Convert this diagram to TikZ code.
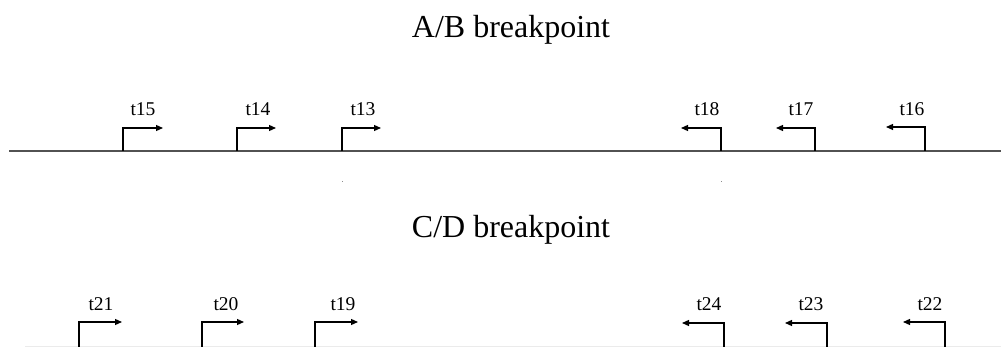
\documentclass[tikz,border=0pt]{standalone}
\usepackage{fontspec}
\setmainfont{Liberation Serif}
\usetikzlibrary{arrows.meta,positioning}
\colorlet{colorAXIS}{black!68}
\colorlet{colorCUT}{black!8}
\tikzset{
   every path/.style={>={Triangle[length=7pt,width=6pt]}},
   axis/.style={-,color=colorAXIS,line width=1.4pt},
   cut/.style={-,color=colorCUT,line width=0.8pt},
   fwd/.style={->,line width=1.2pt},
   rev/.style={<-,line width=1.2pt},
   speck/.style={-,color=black!45,line width=0.8pt},
   tlabel/.style={inner sep=0pt,anchor=base,font=\fontsize{19.5}{22}\selectfont},
   title/.style={inner sep=0pt,anchor=base,font=\fontsize{32}{37}\selectfont},
}

\begin{document}
\begin{tikzpicture}[x=1pt,y=-1pt]
    \useasboundingbox (0,0) rectangle (1001,347);

    % A/B breakpoint
    \node (ab) [title] at (511,38) {A/B breakpoint};
    \coordinate (abw) at (9,151);
    \coordinate (abe) at (1001,151);
    \draw[axis] (abw) -- (abe);

    \node (t15) [tlabel] at (143,116) {t15};
    \node (t14) [tlabel] at (258,116) {t14};
    \node (t13) [tlabel] at (363,116) {t13};
    \node (t18) [tlabel] at (707,116) {t18};
    \node (t17) [tlabel] at (801,116) {t17};
    \node (t16) [tlabel] at (912,116) {t16};

    \coordinate (b15) at (123,151);  \coordinate (e15) at (163,128);
    \coordinate (b14) at (237,151);  \coordinate (e14) at (276,128);
    \coordinate (b13) at (342,151);  \coordinate (e13) at (381,128);
    \coordinate (b18) at (721,151);  \coordinate (e18) at (681,128);
    \coordinate (b17) at (815,151);  \coordinate (e17) at (776,128);
    \coordinate (b16) at (925,151);  \coordinate (e16) at (886,127);

    \draw[fwd] (b15) |- (e15);
    \draw[fwd] (b14) |- (e14);
    \draw[fwd] (b13) |- (e13);
    \draw[rev] (e18) -| (b18);
    \draw[rev] (e17) -| (b17);
    \draw[rev] (e16) -| (b16);

    \draw[speck] (342,181.5) -- (342,182.5);
    \draw[speck] (721,181.5) -- (721,182.5);

    % C/D breakpoint
    \node (cd) [title] at (511,238) {C/D breakpoint};
    \coordinate (cdw) at (25,346.5);
    \coordinate (cde) at (1001,346.5);
    \draw[cut] (cdw) -- (cde);

    \node (t21) [tlabel] at (101,310) {t21};
    \node (t20) [tlabel] at (226,310) {t20};
    \node (t19) [tlabel] at (343,310) {t19};
    \node (t24) [tlabel] at (709,310) {t24};
    \node (t23) [tlabel] at (811,310) {t23};
    \node (t22) [tlabel] at (930,310) {t22};

    \coordinate (b21) at (79,347);   \coordinate (e21) at (122,322);
    \coordinate (b20) at (202,347);  \coordinate (e20) at (244,322);
    \coordinate (b19) at (315,347);  \coordinate (e19) at (358,322);
    \coordinate (b24) at (724,347);  \coordinate (e24) at (682,323);
    \coordinate (b23) at (827,347);  \coordinate (e23) at (785,323);
    \coordinate (b22) at (945,347);  \coordinate (e22) at (903,322);

    \draw[fwd] (b21) |- (e21);
    \draw[fwd] (b20) |- (e20);
    \draw[fwd] (b19) |- (e19);
    \draw[rev] (e24) -| (b24);
    \draw[rev] (e23) -| (b23);
    \draw[rev] (e22) -| (b22);
\end{tikzpicture}
\end{document}
